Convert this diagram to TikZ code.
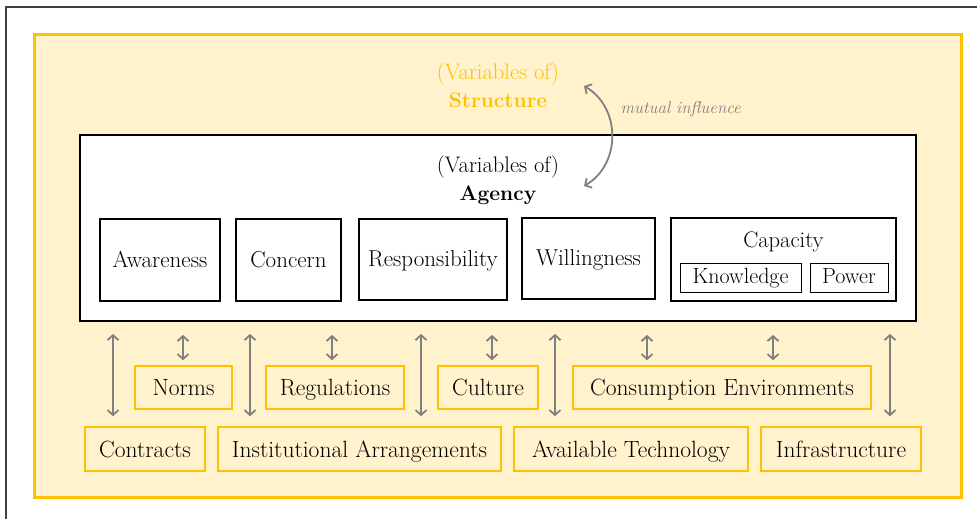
\documentclass[tikz,border=0pt]{standalone}
\usepackage{fontspec}
\usetikzlibrary{arrows.meta,positioning}

\definecolor{structgold}{HTML}{FFC000}
\definecolor{structfill}{HTML}{FFF2CC}
\definecolor{linkgray}{HTML}{808080}

\newcommand{\headfont}{\fontsize{21}{28}\selectfont\bfseries}

\begin{document}
\begin{tikzpicture}[
    x=1pt,y=1pt,
    >={Straight Barb[length=5pt,width=11pt]},
    link/.style={draw=linkgray, line width=1.8pt, <->},
    agentbox/.style={
        draw=black,
        line width=1.5pt,
        fill=white,
        inner sep=0pt,
        text height=19pt, text depth=4.5pt,
        font=\fontsize{23}{27}\selectfont
    },
    subbox/.style={
        draw=black,
        line width=0.8pt,
        inner sep=0pt,
        text height=16pt, text depth=4.5pt,
        font=\fontsize{22}{26}\selectfont
    },
    structbox/.style={
        draw=structgold,
        line width=1.5pt,
        fill=structfill,
        inner sep=0pt,
        text height=21pt, text depth=4.5pt,
        font=\fontsize{23.5}{28}\selectfont
    },
    title/.style={font=\fontsize{22.5}{28}\selectfont, align=center},
    note/.style={font=\fontsize{17}{20}\selectfont\itshape, text=linkgray}
]

\useasboundingbox (0,0) rectangle (977,-519);

% thin page frame
\draw[draw=black!75, line width=1.2pt] (6,-519) -- (6,-7) -- (977,-7);

% ===== structure (outer) and agency (inner) panels =====
\node[draw=structgold, line width=3pt, fill=structfill, inner sep=0pt,
      minimum width=927pt, minimum height=462pt] (structure) at (497.5,-266) {};
\node[agentbox, line width=1.8pt, minimum width=836pt, minimum height=186pt]
      (agency) at (498,-228) {};

\node[title, text=structgold] (structtitle) at (498,-85) {(Variables of)\\{\headfont Structure}};
\node[title] (agencytitle) at (498,-180) {(Variables of)\\{\headfont Agency}};

% mutual influence arc
\coordinate (infltop) at (584,-86);
\coordinate (inflbot) at (584,-186);
\draw[link] (infltop) to[bend left=60, looseness=1.1] (inflbot);
\node[note, anchor=west] (influence) at (617,-109) {mutual influence};

% ===== agency variables =====
\node[agentbox, minimum width=120pt, minimum height=82pt] (awareness) at (160,-260) {Awareness};
\node[agentbox, minimum width=105pt, minimum height=82pt] (concern) at (288.5,-260) {Concern};
\node[agentbox, minimum width=148pt, minimum height=81pt] (responsibility) at (433,-259.5) {Responsibility};
\node[agentbox, minimum width=133pt, minimum height=81pt] (willingness) at (588.5,-258.5) {Willingness};
\node[agentbox, minimum width=225pt, minimum height=83pt] (capacity) at (783.5,-259.5) {};
\node[font=\fontsize{22.5}{27}\selectfont] (capacitylabel) at (783.5,-242) {Capacity};
\node[subbox, minimum width=121pt, minimum height=29pt] (knowledge) at (740.5,-277.5) {Knowledge};
\node[subbox, minimum width=78pt, minimum height=29pt] (power) at (849,-277.5) {Power};

% ===== structure variables, upper row =====
\node[structbox, minimum width=97pt, minimum height=43pt] (norms) at (183.5,-387.5) {Norms};
\node[structbox, minimum width=138pt, minimum height=43pt] (regulations) at (335,-387.5) {Regulations};
\node[structbox, minimum width=100pt, minimum height=43pt] (culture) at (488,-387.5) {Culture};
\node[structbox, minimum width=298pt, minimum height=43pt] (consumption) at (722,-387.5) {Consumption Environments};

% ===== structure variables, lower row =====
\node[structbox, minimum width=120pt, minimum height=44pt] (contracts) at (145,-449) {Contracts};
\node[structbox, minimum width=283pt, minimum height=44pt] (institutional) at (359.5,-449) {Institutional Arrangements};
\node[structbox, minimum width=234pt, minimum height=44pt] (technology) at (631,-449) {Available Technology};
\node[structbox, minimum width=160pt, minimum height=44pt] (infrastructure) at (841,-449) {Infrastructure};

% long links down to the lower row
\foreach \x/\to in {113/contracts, 250/institutional, 421/institutional,
                    555/technology, 890/infrastructure}{
  \path (\x,0) coordinate (col);
  \draw[link, shorten <=12pt, shorten >=10pt] (col |- agency.south) -- (col |- \to.north);
}

% short links to the upper row
\foreach \x/\to in {183/norms, 332/regulations, 492/culture,
                    647/consumption, 773/consumption}{
  \path (\x,0) coordinate (col);
  \draw[link, shorten <=13pt, shorten >=5pt] (col |- agency.south) -- (col |- \to.north);
}
\end{tikzpicture}
\end{document}
